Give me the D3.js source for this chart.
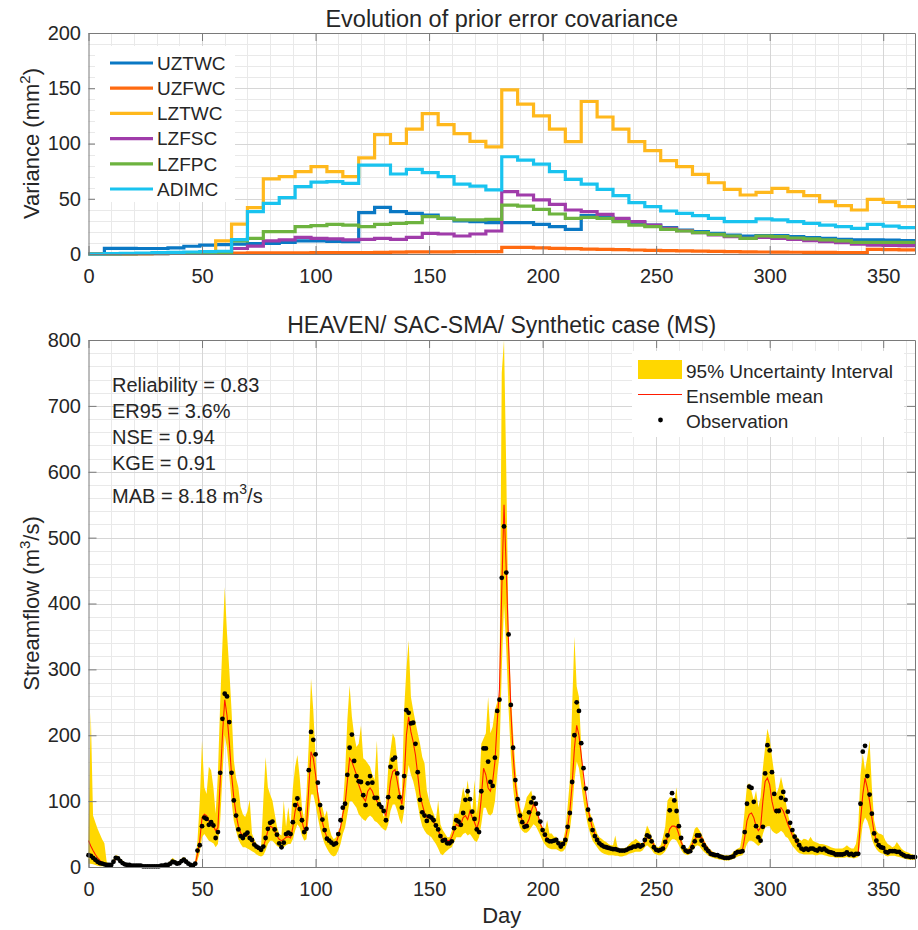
<!DOCTYPE html>
<html><head><meta charset="utf-8">
<script src="https://cdn.jsdelivr.net/npm/d3@7"></script>
<style>
body{margin:0;background:#fff;}
svg{display:block;font-family:"Liberation Sans",Arial,Helvetica,sans-serif;}
</style></head><body>
<svg id="c" width="918" height="930"></svg>
<script>
// ---------- Top panel: weekly prior error variance (mm^2) ----------
const updateDays = [0,7,14,21,28,35,42,49,56,63,70,77,84,91,98,105,112,119,126,133,140,147,154,161,168,175,182,189,196,203,210,217,224,231,238,245,252,259,266,273,280,287,294,301,308,315,322,329,336,343,350,357,364];
const seriesNames = ["UZTWC","UZFWC","LZTWC","LZFSC","LZFPC","ADIMC"];
const seriesColors = ["#0a78c4","#ff6a10","#ffb81c","#a03caa","#6db33f","#19c3ef"];
const UZTWC = [0,5.1,5.1,5,5,5.5,7,8,8.5,9,9.3,9.7,10.5,11.8,11.8,11.5,11.2,37.4,42.2,38.3,36.8,35.3,32.3,29.9,29.3,28.4,28.4,28.4,26.8,24.7,22.3,34.7,33.2,31.4,28.7,26.2,23.8,21.7,20.2,18.7,17.2,16.3,16.6,16.6,15.7,14.8,14.2,13.3,12.7,12.7,12.5,12.2,12.2];
const UZFWC = [0,0.2,0.3,0.4,0.5,0.5,0.6,0.7,0.8,0.9,1.0,1.0,1.1,1.1,1.2,1.2,1.2,1.3,1.5,1.7,1.9,2.0,2.0,2.1,2.1,2.2,6.0,6.0,5.5,5.1,4.8,4.5,4.2,3.9,3.6,3.3,3.0,2.8,2.6,2.4,2.2,2.0,1.8,1.7,1.6,1.5,1.4,1.3,1.2,4.2,4.0,3.8,3.8];
const LZTWC = [0,0.2,0.3,0.4,0.5,0.6,0.8,1,11.8,27,42,68,70,74.5,79,74.5,70,87,108,100,113,127,117,109,102,97,148.5,135.7,125,113,101.7,138,124,113,101.7,93.5,84.5,79,72,64.5,58.5,53.4,55.8,59.4,56.4,52.8,47.4,43.7,39.8,49.5,46.8,42.8,42.8];
const LZFSC = [0,0.1,0.2,0.3,0.4,0.5,0.7,1.0,2,5,7.2,11.8,12.7,15,14.2,13.6,12.7,13.3,14.2,13.3,15,18.7,18.1,16.3,18.1,20.8,56.4,53.4,48.9,45,39.8,38.3,35.9,32.3,29.3,26.2,23.2,21.1,19.3,17.2,15.7,14.2,15,14.2,13.3,12.1,11.2,10.3,9,8.1,7.8,7.5,7.5];
const LZFPC = [0,0.1,0.2,0.3,0.4,0.5,0.6,0.8,1.5,11.8,14.2,20.2,20.2,24.7,25.6,26.8,26.2,24.7,26.8,27.8,28.4,33.8,32.3,30.8,30.8,31.4,44.3,43.4,40.4,36.2,32.3,33.2,32.3,29.3,26.2,24.7,22.3,20.8,19.3,17.8,16.3,14.2,16.3,15.7,14.5,13.6,12.7,11.8,10.6,10.6,10.6,10.5,10.5];
const ADIMC = [0,0.3,0.6,0.9,1.2,1.5,1.8,2.1,2.5,13,38.3,45.9,51,61,65,65.5,64,80.5,80.5,72.4,76.6,73.6,70,63.3,61.5,58,88,85,81.4,74.5,67.6,63.3,58.5,52.8,46.5,42.8,38.9,36.8,34.7,32.3,29.3,29.3,31.7,30.8,29.3,27.8,26.2,24.7,23.2,26.8,25.3,23.8,23.8];
const topTicksX = [0,50,100,150,200,250,300,350];
const topTicksY = [0,50,100,150,200];
const botTicksY = [0,100,200,300,400,500,600,700,800];

// ---------- Bottom panel: daily streamflow (m^3/s), days 0..364 ----------
const obs = [
18,17,14,11,8,6,5,4,3,3, 3,8,14,13,9,6,4,3,3,2, 2,2,2,2,1,1,1,1,1,1, 1,1,2,2,3,3,5,8,7,5,
6,9,11,8,5,3,2,5,25,33, 62,75,73,64,68,63,44,53,143,225, 263,259,220,143,101,78,57,47,44,49, 52,44,41,34,31,29,26,31,44,58,
67,69,57,49,36,30,37,50,52,50, 68,94,104,88,71,53,58,147,205,193, 171,128,94,72,56,43,40,37,34,36, 50,71,90,96,140,181,201,161,138,130,
129,109,94,127,138,128,105,105,95,91, 85,71,106,152,163,166,142,106,90,138, 238,234,218,219,187,144,102,83,78,70, 77,75,71,63,57,47,40,41,36,36,
39,59,71,69,64,82,102,115,103,84, 73,57,53,115,180,180,160,129,123,166, 237,254,439,517,447,353,246,181,132,103, 78,68,61,62,83,98,105,96,81,69,
56,49,41,39,39,40,41,36,31,35, 41,61,82,129,200,250,237,188,150,119, 87,72,56,47,41,36,33,31,30,29, 28,27,27,26,25,25,25,26,28,29,
31,31,33,31,33,41,48,46,39,30, 26,25,26,28,38,48,86,112,101,85, 62,44,30,25,23,24,30,39,48,48, 40,33,28,24,20,19,18,18,16,15,
14,14,14,15,16,21,23,23,24,53, 96,122,120,99,62,45,40,61,142,185, 177,144,111,85,85,105,114,102,84,67, 56,46,40,33,28,26,28,26,28,28,
26,25,28,26,28,25,23,22,21,19, 19,19,19,20,22,19,20,18,20,20, 96,175,184,138,110,81,51,40,33,30, 29,23,22,24,24,24,23,23,20,18,
16,16,15,15,15];
const ensMean = [
40,32,25,19,14,10,7,5,4,3, 3,6,12,13,10,7,5,4,3,2, 2,2,2,2,1,1,1,1,1,1, 1,1,2,2,3,3,4,7,7,5,
6,8,10,8,5,3,2,4,20,40, 75,80,78,70,65,62,55,60,130,200, 254,230,190,140,105,80,62,52,48,50, 48,44,40,35,32,29,27,30,42,55,
62,60,54,47,42,40,42,45,46,44, 60,85,97,88,70,56,60,120,175,165, 140,110,85,68,55,45,40,36,34,36, 46,60,80,95,130,165,160,150,140,125,
115,105,100,115,120,115,105,100,95,90, 85,78,100,130,145,148,130,110,95,130, 200,228,205,190,170,140,110,95,82,75, 75,72,68,62,55,48,43,42,40,40,
45,55,65,62,65,75,78,72,85,75, 68,58,70,105,150,140,120,115,130,160, 220,270,420,550,450,340,240,170,125,100, 82,70,65,65,72,85,95,90,78,66,
56,48,43,40,40,40,40,37,34,36, 42,60,85,125,180,215,200,170,140,112, 88,72,58,50,44,38,34,32,30,29, 28,28,27,26,26,25,25,26,28,29,
30,31,32,32,33,38,44,45,40,33, 27,26,26,28,35,45,58,62,62,60, 50,38,30,26,25,28,35,42,46,45, 45,38,32,27,23,21,19,18,17,16,
15,14,14,14,15,20,22,23,25,45, 70,80,82,75,62,55,60,100,130,135, 125,100,85,82,88,90,85,75,65,57, 48,42,36,31,28,27,27,27,27,27,
26,26,27,27,26,24,23,22,21,20, 20,20,20,20,21,20,20,19,20,22, 70,110,135,120,100,75,52,40,34,31, 29,25,23,24,24,24,23,22,20,18,
17,16,15,15,15];
const lower95 = [
5,5,4,3,2,1,1,1,1,1, 2,6,11,11,7,5,3,2,2,1, 1,1,1,1,0,0,0,0,0,0, 0,0,1,1,2,2,4,6,5,4,
5,7,9,6,4,2,1,3,10,22, 45,50,45,40,38,36,30,35,70,140, 200,180,140,100,70,55,42,35,30,30, 28,26,24,22,19,17,16,18,25,35,
40,40,36,32,30,28,30,33,35,35, 42,55,65,60,48,40,42,75,110,110, 95,75,58,45,35,28,22,18,16,18, 25,35,50,60,80,100,100,95,90,80,
76,72,70,75,78,75,70,68,64,60, 57,55,65,85,95,95,85,72,65,85, 130,155,140,130,115,95,75,62,55,50, 48,45,40,35,28,20,18,22,25,28,
30,38,45,45,45,50,52,48,50,45, 40,38,45,65,90,90,80,78,82,100, 140,170,300,400,330,240,170,120,90,72, 60,55,52,52,55,60,65,62,55,48,
40,34,30,28,27,27,27,25,23,24, 28,38,55,85,130,160,150,125,100,80, 62,50,40,35,30,25,22,20,19,18, 18,18,17,17,16,16,17,18,20,21,
22,23,23,23,25,30,33,30,26,21, 19,18,18,20,24,30,38,42,42,40, 33,26,21,19,18,20,25,30,33,32, 27,23,20,17,15,14,13,12,11,11,
10,10,10,11,12,14,16,17,18,25, 35,40,40,38,35,32,35,50,60,62, 62,55,52,50,52,55,52,46,44,38, 32,28,24,21,20,19,19,19,19,19,
18,18,19,19,18,17,16,15,15,14, 14,14,14,14,15,14,14,13,14,15, 40,65,75,70,58,42,33,27,23,21, 20,17,16,17,17,17,16,15,14,13,
12,11,11,11,11];
const upper95 = [
45,235,78,68,58,50,42,36,8,5, 5,12,18,17,13,10,7,5,5,4, 4,4,4,4,3,3,3,3,3,3, 3,3,4,4,5,6,9,14,11,8,
9,13,15,12,8,5,4,10,40,100, 192,121,111,152,147,121,81,142,250,340, 425,355,300,238,162,135,121,91,80,76, 85,102,51,42,35,32,30,101,167,121,
110,101,81,61,50,48,101,61,91,61, 120,152,170,137,91,71,111,187,286,238, 167,116,100,91,76,86,60,48,42,45, 55,61,91,142,223,276,228,200,182,187,
215,165,162,157,152,140,132,192,111,91, 76,96,150,177,203,195,160,120,106,238, 300,344,258,238,220,203,187,167,157,116, 101,90,81,71,101,65,56,51,45,45,
55,81,81,81,100,121,106,132,101,81, 132,81,111,187,195,203,258,203,213,238, 250,263,750,800,600,355,263,203,152,116, 91,81,91,106,111,116,101,91,76,66,
61,56,71,51,51,46,46,40,40,40, 56,91,132,243,350,274,258,182,132,106, 91,81,71,61,51,45,43,40,38,35, 33,33,48,30,28,28,29,30,34,38,
40,43,40,37,35,50,63,56,45,38, 32,30,33,45,61,101,106,106,101,121, 76,46,32,29,28,35,45,58,61,56, 50,42,35,30,26,23,22,20,19,19,
18,18,18,19,23,26,28,30,51,86, 124,127,115,101,116,91,106,150,182,210, 195,167,142,111,121,137,121,101,81,66, 56,51,46,42,40,43,42,40,46,40,
38,37,35,35,34,33,32,30,29,28, 28,28,28,30,33,30,28,28,35,60, 140,172,147,167,192,121,71,55,51,50, 48,40,35,33,30,32,38,33,28,25,
23,22,20,19,18];
const botTicksX = [0,50,100,150,200,250,300,350];
const statLines = ["Reliability = 0.83","ER95 = 3.6%","NSE = 0.94","KGE = 0.91"];
const legendBottom = ["95% Uncertainty Interval","Ensemble mean","Observation"];

// ---------- Drawing ----------
const svg = d3.select("#c");
const FONT = '"Liberation Sans",Arial,Helvetica,sans-serif';
const TXT = "#262626", AX = "#7a7a7a";
const L = 88.5, R = 915;
const x = d3.scaleLinear().domain([0,364]).range([L,R]);
const yTop = d3.scaleLinear().domain([0,200]).range([254,33]);
const yBot = d3.scaleLinear().domain([0,800]).range([867,340]);
const days = obs.map((_,i)=>i);

function frame(y, xTicks, yTicks, xMinorStep, yMinorStep){
  const g = svg.append("g");
  const [yb, yt] = y.range();
  const [d0,d1] = y.domain();
  const xMinor = d3.range(0,365,xMinorStep).filter(d=>!xTicks.includes(d));
  const yMinor = d3.range(d0,d1,yMinorStep).filter(d=>!yTicks.includes(d));
  g.append("g").selectAll("line").data(xMinor).join("line")
    .attr("x1",d=>Math.round(x(d))+0.5).attr("x2",d=>Math.round(x(d))+0.5).attr("y1",yb).attr("y2",yt)
    .attr("stroke","#e9e9e9");
  g.append("g").selectAll("line").data(yMinor).join("line")
    .attr("y1",d=>Math.round(y(d))+0.5).attr("y2",d=>Math.round(y(d))+0.5).attr("x1",L).attr("x2",R)
    .attr("stroke","#e9e9e9");
  g.append("g").selectAll("line").data(xTicks.filter(d=>d>0)).join("line")
    .attr("x1",d=>Math.round(x(d))+0.5).attr("x2",d=>Math.round(x(d))+0.5).attr("y1",yb).attr("y2",yt)
    .attr("stroke","#d6d6d6");
  g.append("g").selectAll("line").data(yTicks.filter(d=>d>d0 && d<d1)).join("line")
    .attr("y1",d=>Math.round(y(d))+0.5).attr("y2",d=>Math.round(y(d))+0.5).attr("x1",L).attr("x2",R)
    .attr("stroke","#d6d6d6");
  return g;
}
function axes(y, xTicks, yTicks){
  const [yb, yt] = y.range();
  const style = sel => {
    sel.attr("font-size",20).attr("font-family",FONT);
    sel.select(".domain").attr("stroke",AX);
    sel.selectAll(".tick line").attr("stroke",AX);
    sel.selectAll(".tick text").attr("fill",TXT);
  };
  svg.append("g").attr("transform",`translate(0,${yb})`)
    .call(d3.axisBottom(x).tickValues(xTicks).tickSize(-8).tickSizeOuter(0).tickPadding(14.5)).call(style);
  svg.append("g").attr("transform",`translate(0,${yt})`)
    .call(d3.axisTop(x).tickValues(xTicks).tickSize(-8).tickSizeOuter(0).tickFormat("")).call(style);
  svg.append("g").attr("transform",`translate(${L},0)`)
    .call(d3.axisLeft(y).tickValues(yTicks).tickSize(-8).tickSizeOuter(0).tickPadding(7.5)).call(style);
  svg.append("g").attr("transform",`translate(${R},0)`)
    .call(d3.axisRight(y).tickValues(yTicks).tickSize(-8).tickSizeOuter(0).tickFormat("")).call(style);
}

// ----- top panel -----
frame(yTop, topTicksX, topTicksY, 10, 10);
const topSeries = [UZTWC,UZFWC,LZTWC,LZFSC,LZFPC,ADIMC];
const stepLine = d3.line().curve(d3.curveStepAfter).x((d,i)=>x(updateDays[i])).y(d=>yTop(d));
svg.append("g").selectAll("path").data(topSeries).join("path")
  .attr("d",stepLine).attr("fill","none").attr("stroke",(d,i)=>seriesColors[i]).attr("stroke-width",3.2);
axes(yTop, topTicksX, topTicksY);

// legend top
const lt = svg.append("g");
lt.append("rect").attr("x",95).attr("y",46).attr("width",140).attr("height",156).attr("fill","#fff");
seriesNames.forEach((n,i)=>{
  const cy = 63 + i*25.2;
  lt.append("line").attr("x1",110).attr("x2",153).attr("y1",cy).attr("y2",cy)
    .attr("stroke",seriesColors[i]).attr("stroke-width",3.2);
  lt.append("text").attr("x",157).attr("y",cy+6.8).attr("font-size",19).attr("fill",TXT).text(n);
});

svg.append("text").attr("x",(L+R)/2).attr("y",27).attr("text-anchor","middle").attr("font-size",23.5)
  .attr("fill",TXT).text("Evolution of prior error covariance");
const yl1 = svg.append("text").attr("transform","translate(38.5,143.5) rotate(-90)").attr("text-anchor","middle")
  .attr("font-size",22).attr("fill",TXT);
yl1.append("tspan").text("Variance (mm");
yl1.append("tspan").attr("font-size",15).attr("dy",-9).text("2");
yl1.append("tspan").attr("dy",9).text(")");

// ----- bottom panel -----
frame(yBot, botTicksX, botTicksY, 10, 20);
const band = d3.area().x((d,i)=>x(days[i])).y0((d,i)=>yBot(lower95[i])).y1(d=>yBot(d));
svg.append("path").datum(upper95).attr("d",band).attr("fill","#ffd700");
const meanLine = d3.line().x((d,i)=>x(days[i])).y(d=>yBot(d));
svg.append("path").datum(ensMean).attr("d",meanLine).attr("fill","none").attr("stroke","#ff1a00").attr("stroke-width",1.1);
svg.append("g").selectAll("circle").data(obs).join("circle")
  .attr("cx",(d,i)=>x(days[i])).attr("cy",d=>yBot(d)).attr("r",2.4).attr("fill","#000");
axes(yBot, botTicksX, botTicksY);

// stats
const st = svg.append("g").attr("font-size",20).attr("fill",TXT);
statLines.forEach((s,i)=>{
  st.append("text").attr("x",112).attr("y",392 + i*26).text(s);
});
const mab = st.append("text").attr("x",112).attr("y",503);
mab.append("tspan").text("MAB = 8.18 m");
mab.append("tspan").attr("font-size",14).attr("dy",-9).text("3");
mab.append("tspan").attr("dy",9).text("/s");

// legend bottom
const lb = svg.append("g");
lb.append("rect").attr("x",632).attr("y",351).attr("width",272).attr("height",86).attr("fill","#fff");
lb.append("rect").attr("x",638).attr("y",360).attr("width",44).attr("height",19).attr("fill","#ffd700");
lb.append("line").attr("x1",638).attr("x2",682).attr("y1",394.5).attr("y2",394.5).attr("stroke","#ff1a00").attr("stroke-width",1.1);
lb.append("circle").attr("cx",660.5).attr("cy",420).attr("r",2.4).attr("fill","#000");
legendBottom.forEach((t,i)=>{
  lb.append("text").attr("x",686).attr("y",[377.5,403,428][i]).attr("font-size",19).attr("fill",TXT).text(t);
});

svg.append("text").attr("x",(L+R)/2).attr("y",333).attr("text-anchor","middle").attr("font-size",23)
  .attr("fill",TXT).text("HEAVEN/ SAC-SMA/ Synthetic case (MS)");
const yl2 = svg.append("text").attr("transform","translate(38.5,603.5) rotate(-90)").attr("text-anchor","middle")
  .attr("font-size",22).attr("fill",TXT);
yl2.append("tspan").text("Streamflow (m");
yl2.append("tspan").attr("font-size",15).attr("dy",-9).text("3");
yl2.append("tspan").attr("dy",9).text("/s)");
svg.append("text").attr("x",(L+R)/2).attr("y",923).attr("text-anchor","middle").attr("font-size",22)
  .attr("fill",TXT).text("Day");
</script></body></html>
